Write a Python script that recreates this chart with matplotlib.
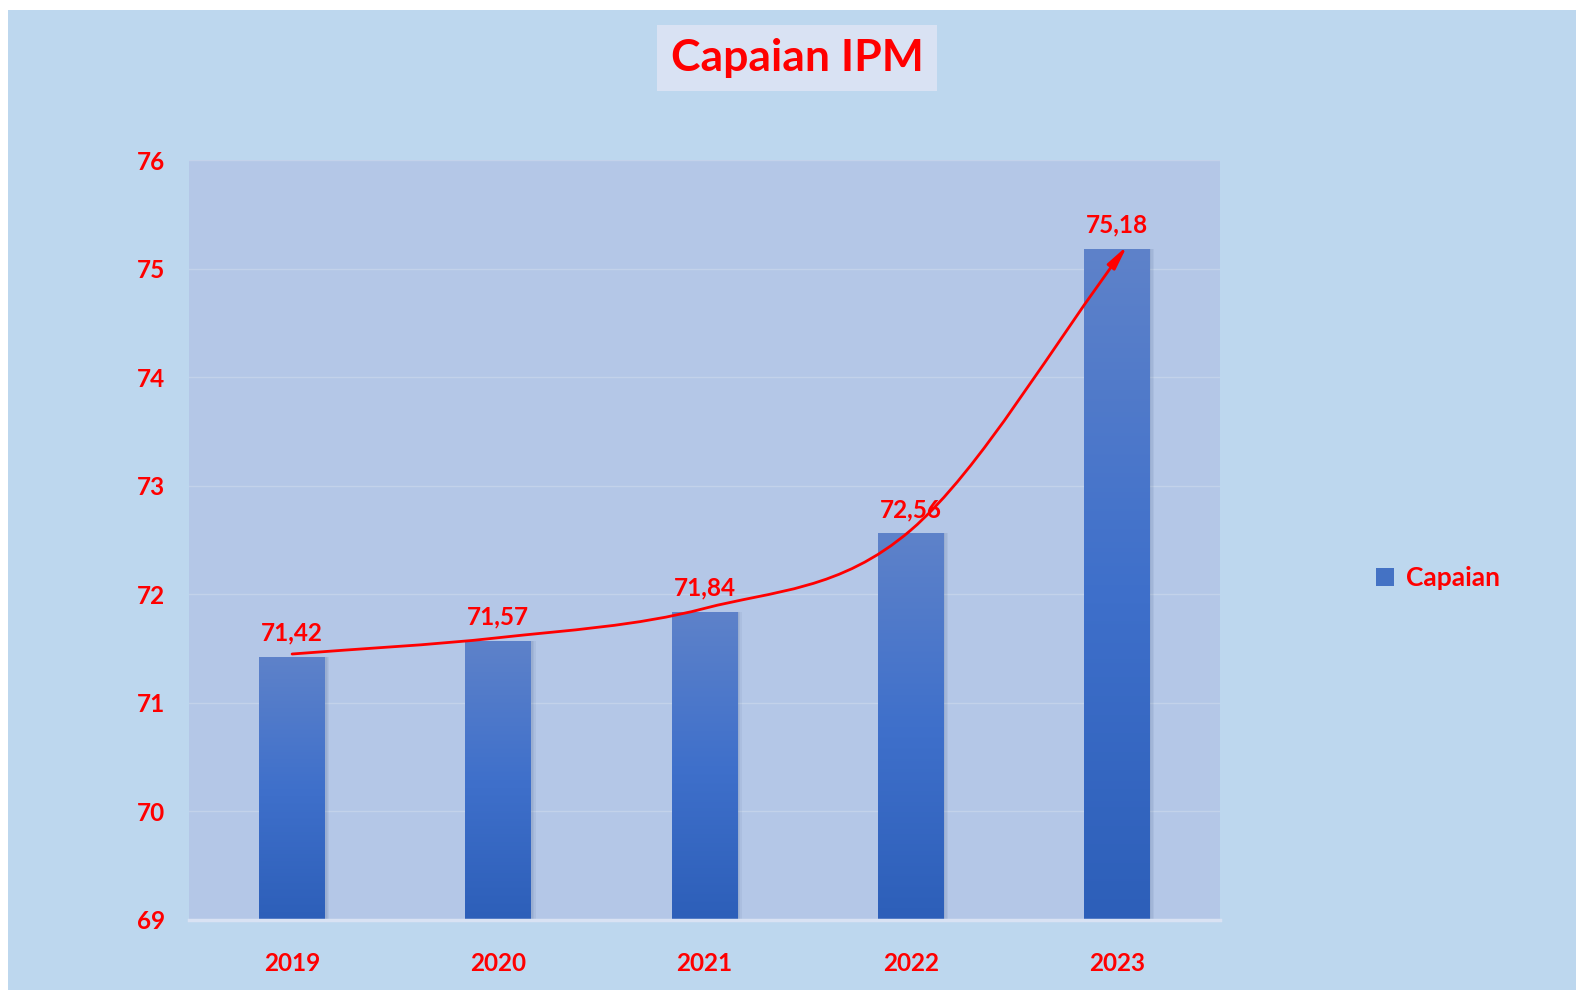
import numpy as np
import matplotlib
matplotlib.use("Agg")
import matplotlib.pyplot as plt
from matplotlib.path import Path
from matplotlib.patches import FancyArrowPatch, Rectangle
from matplotlib.colors import LinearSegmentedColormap

# Data
years = ["2019", "2020", "2021", "2022", "2023"]
capaian = [71.42, 71.57, 71.84, 72.56, 75.18]
labels = ["71,42", "71,57", "71,84", "72,56", "75,18"]
y_ticks = [69, 70, 71, 72, 73, 74, 75, 76]

RED = "#ff0000"
plt.rcParams["font.family"] = ["Lato", "DejaVu Sans"]
plt.rcParams["font.weight"] = "bold"

fig = plt.figure(figsize=(15.78, 9.90), dpi=100)
fig.patch.set_facecolor("white")
# light blue chart area (small white strip on left/top like the original)
bg = Rectangle((8 / 1578, 0), 1 - 10 / 1578, 1 - 10 / 990,
               transform=fig.transFigure, facecolor="#bdd7ee",
               edgecolor="none", zorder=-10)
fig.add_artist(bg)

ax = fig.add_axes([189 / 1578, 70 / 990, 1031 / 1578, 760 / 990])
ax.set_facecolor("#b4c7e7")
x = np.arange(len(years))
width = 0.32

# soft shadow behind bars
for k in range(3):
    ax.bar(x + 0.004 * (k + 1), np.array(capaian) - 69, width + 0.006 * (k + 1),
           bottom=69, color="#1f3a6b", alpha=0.06, zorder=2, linewidth=0)

bars = ax.bar(x, np.array(capaian) - 69, width, bottom=69, color="#4472c4",
              zorder=3, linewidth=0, label="Capaian")

# vertical gradient inside each bar
cmap = LinearSegmentedColormap.from_list("grad", ["#2d5fb9", "#3f70cb", "#5e82c9"])
grad = np.linspace(0, 1, 256).reshape(-1, 1)
for b in bars:
    im = ax.imshow(grad, cmap=cmap, origin="lower", aspect="auto",
                   extent=[b.get_x(), b.get_x() + b.get_width(), 69, b.get_y() + b.get_height()],
                   zorder=4)
    im.set_clip_path(b)

# data labels
for xi, v, lab in zip(x, capaian, labels):
    ax.annotate(lab, (xi, v), xytext=(0, 9), textcoords="offset points",
                ha="center", va="bottom", color=RED, fontsize=17.5, fontweight="bold", zorder=6)

# smooth red trend arrow through the bar tops (Catmull-Rom as Bezier)
pts = np.column_stack([x, np.array(capaian) + 0.03])
pts[-1, 0] += 0.05
ext = np.vstack([pts[0] - (pts[1] - pts[0]), pts, pts[-1] + (pts[-1] - pts[-2])])
verts = [tuple(pts[0])]
codes = [Path.MOVETO]
for i in range(1, len(ext) - 2):
    p0, p1, p2, p3 = ext[i - 1], ext[i], ext[i + 1], ext[i + 2]
    c1 = p1 + (p2 - p0) / 6
    c2 = p2 - (p3 - p1) / 6
    verts += [tuple(c1), tuple(c2), tuple(p2)]
    codes += [Path.CURVE4] * 3
arrow = FancyArrowPatch(path=Path(verts, codes), arrowstyle="-|>,head_length=1.0,head_width=0.2",
                        mutation_scale=14, color=RED, linewidth=2, zorder=7)
ax.add_patch(arrow)

ax.set_xlim(-0.5, len(years) - 0.5)
ax.set_ylim(69, 76)
ax.set_yticks(y_ticks)
ax.set_xticks(x)
ax.set_xticklabels(years)
ax.tick_params(axis="both", length=0, colors=RED, labelsize=17.5)
ax.tick_params(axis="y", pad=17)
ax.tick_params(axis="x", pad=23)
for t in ax.get_xticklabels() + ax.get_yticklabels():
    t.set_fontweight("bold")
ax.grid(axis="y", color="#c3d2ea", linewidth=1, zorder=1)
ax.set_axisbelow(True)
for s in ["top", "right", "left"]:
    ax.spines[s].set_visible(False)
ax.spines["bottom"].set_color("#d9e2f3")
ax.spines["bottom"].set_linewidth(2.5)
ax.spines["bottom"].set_zorder(8)

# legend
leg = fig.legend(handles=[bars], labels=["Capaian"], loc="center left",
                 bbox_to_anchor=(1352 / 1578, 1 - 578 / 990), frameon=False,
                 handlelength=0.7, handleheight=0.7, handletextpad=0.45,
                 prop={"size": 19, "weight": "bold"})
for t in leg.get_texts():
    t.set_color(RED)

# title
fig.text(797 / 1578, 1 - 58 / 990, "Capaian IPM", ha="center", va="center",
         color=RED, fontsize=32, fontweight="bold",
         bbox=dict(boxstyle="square,pad=0.3", facecolor="#d9e2f3", edgecolor="none"))

fig.savefig("out.png", dpi=100, facecolor=fig.get_facecolor())
